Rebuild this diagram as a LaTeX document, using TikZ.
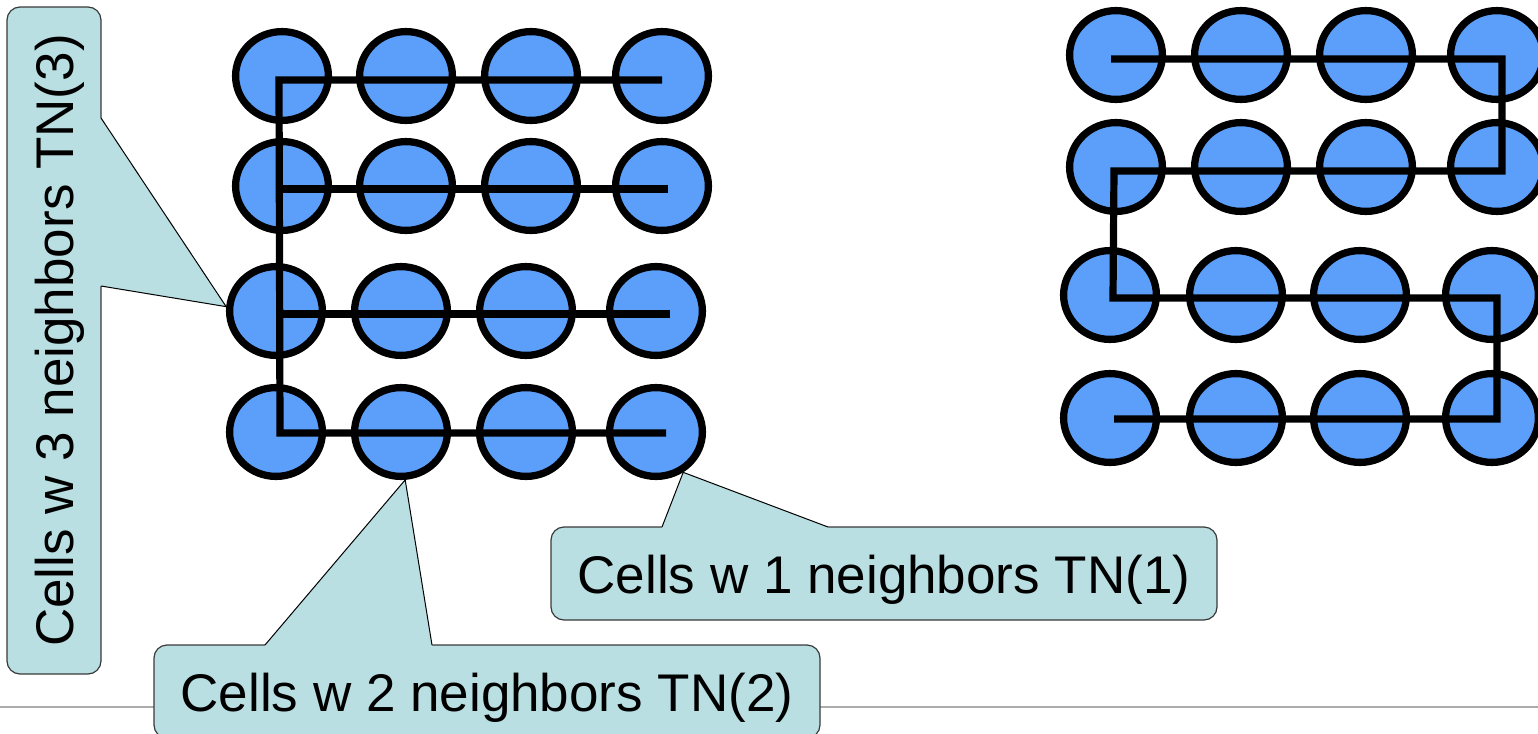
\documentclass[tikz,border=0pt]{standalone}
\usepackage{fontspec}
\setmainfont{Liberation Sans}
\usetikzlibrary{shapes.geometric}

\definecolor{cellblue}{HTML}{5B9FFB}
\definecolor{notefill}{HTML}{B9DFE2}
\definecolor{noteline}{HTML}{3A3A3A}

\tikzset{
  cell/.style={ellipse, draw=black, line width=3.65pt, fill=cellblue,
    minimum width=46.4pt, minimum height=44.4pt, inner sep=0pt},
  chain/.style={draw=black, line width=3.6pt, line join=miter},
  note/.style={rectangle, draw=noteline, line width=0.6pt, fill=notefill,
    rounded corners=6.5pt, inner sep=0pt,
    font=\fontsize{26.5pt}{30pt}\selectfont, text height=19.5pt, text depth=0pt},
  pointer/.style={draw=black, line width=0.5pt, line join=miter},
  baseline rule/.style={draw=gray!65, line width=0.7pt}
}

\begin{document}
\begin{tikzpicture}[x=0.5pt, y=-0.5pt]
\useasboundingbox (0,0) rectangle (1538,734);

% thin rule near the bottom edge
\coordinate (ruleW) at (0,707);
\coordinate (ruleE) at (1538,707);
\draw[baseline rule] (ruleW) -- (ruleE);

% left grid of cells
\foreach \x [count=\c] in {282,406,531,662} {
  \node[cell] (L1\c) at (\x,76) {};
  \node[cell] (L2\c) at (\x,186) {};
}
\foreach \x [count=\c] in {276,401,526,656} {
  \node[cell] (L3\c) at (\x,311) {};
  \node[cell] (L4\c) at (\x,432) {};
}

% right grid of cells
\foreach \x [count=\c] in {1116,1241,1366,1497} {
  \node[cell] (R1\c) at (\x,55) {};
  \node[cell] (R2\c) at (\x,167) {};
}
\foreach \x [count=\c] in {1110,1236,1360,1492} {
  \node[cell] (R3\c) at (\x,295) {};
  \node[cell] (R4\c) at (\x,418) {};
}

% left: comb-shaped traversal
\draw[chain] ([shift={(0,4)}]L14.center) -- ([shift={(-3,4)}]L11.center)
  -- ([shift={(4,1)}]L41.center) -- ([shift={(10,1)}]L44.center);
\draw[chain] ([shift={(-2.5,3)}]L21.center) -- ([shift={(6,3)}]L24.center);
\draw[chain] ([shift={(3.5,3)}]L31.center) -- ([shift={(14,3)}]L34.center);

% right: serpentine traversal
\draw[chain] ([shift={(-5,4)}]R11.center) -- ([shift={(5,4)}]R14.center)
  -- ([shift={(5,4)}]R24.center) -- ([shift={(-2,4)}]R21.center)
  -- ([shift={(3,3)}]R31.center) -- ([shift={(5,3)}]R34.center)
  -- ([shift={(5,1)}]R44.center) -- ([shift={(4,1)}]R41.center);

% callout: one neighbour
\node[note, minimum width=333pt, minimum height=46.5pt] (tn1) at (884,573.5)
  {Cells w 1 neighbors TN(1)};
\coordinate (p1a) at (662,527);
\coordinate (p1b) at (828,527);
\coordinate (t1) at (L44.-56);
\fill[notefill] (p1a) -- (t1) -- (p1b) -- ([shift={(0,4)}]p1b) -- ([shift={(0,4)}]p1a) -- cycle;
\draw[pointer] (p1a) -- (t1) -- (p1b);

% callout: two neighbours
\node[note, minimum width=333pt, minimum height=46.5pt] (tn2) at (487,691.5)
  {Cells w 2 neighbors TN(2)};
\coordinate (p2a) at (265,645);
\coordinate (p2b) at (432,645);
\coordinate (t2) at (L42.-85);
\fill[notefill] (p2a) -- (t2) -- (p2b) -- ([shift={(0,4)}]p2b) -- ([shift={(0,4)}]p2a) -- cycle;
\draw[pointer] (p2a) -- (t2) -- (p2b);

% callout: three neighbours (vertical)
\node[note, rotate=90, minimum width=333.5pt, minimum height=47pt] (tn3) at (54,340.5)
  {Cells w 3 neighbors TN(3)};
\coordinate (p3a) at (101,118);
\coordinate (p3b) at (101,286);
\coordinate (t3) at (L31.175);
\fill[notefill] (p3a) -- (t3) -- (p3b) -- ([shift={(-4,0)}]p3b) -- ([shift={(-4,0)}]p3a) -- cycle;
\draw[pointer] (p3a) -- (t3) -- (p3b);
\end{tikzpicture}
\end{document}
